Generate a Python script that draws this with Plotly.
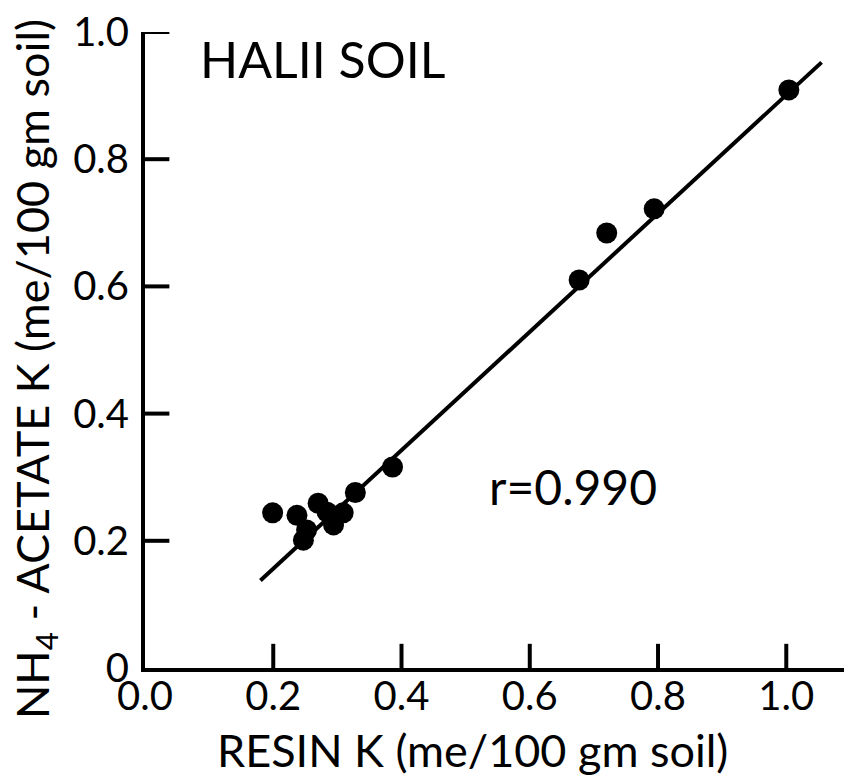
import plotly.graph_objects as go

# Resin-extractable K versus NH4-acetate extractable K, Halii soil
resin_k = [0.199, 0.237, 0.247, 0.252, 0.270, 0.284, 0.294, 0.309, 0.328, 0.386,
           0.677, 0.720, 0.794, 1.004]
acetate_k = [0.244, 0.240, 0.201, 0.217, 0.259, 0.245, 0.225, 0.244, 0.276, 0.316,
             0.610, 0.684, 0.722, 0.909]

# Fitted regression line
fit_slope = 0.931
fit_intercept = -0.030
fit_x = [0.18, 1.055]
fit_y = [fit_intercept + fit_slope * v for v in fit_x]

x_tickvals = [0.0, 0.2, 0.4, 0.6, 0.8, 1.0]
x_ticktext = ["0.0", "0.2", "0.4", "0.6", "0.8", "1.0"]
y_tickvals = [0.0, 0.2, 0.4, 0.6, 0.8, 1.0]
y_ticktext = ["0", "0.2", "0.4", "0.6", "0.8", "1.0"]

FONT = "Lato"
X_RANGE = [0, 1.09]
Y_RANGE = [0, 1.0]
TICK_LEN = 0.038  # inward tick length, in axis units

fig = go.Figure()

# Inward tick marks, one short segment per tick value
for v in x_tickvals[1:]:
    fig.add_trace(go.Scatter(x=[v, v], y=[0, TICK_LEN], mode="lines",
                             line=dict(color="black", width=4), hoverinfo="skip"))
for v in y_tickvals[1:]:
    fig.add_trace(go.Scatter(x=[0, TICK_LEN], y=[v, v], mode="lines",
                             line=dict(color="black", width=4), hoverinfo="skip"))

fig.add_trace(go.Scatter(x=fit_x, y=fit_y, mode="lines",
                         line=dict(color="black", width=4), hoverinfo="skip"))
fig.add_trace(go.Scatter(x=resin_k, y=acetate_k, mode="markers",
                         marker=dict(color="black", size=21, line=dict(width=0))))

axis_common = dict(showgrid=False, zeroline=False, showline=True, linecolor="black",
                   linewidth=4, ticks="", tickfont=dict(family=FONT, size=40, color="black"))

fig.update_xaxes(range=X_RANGE, tickmode="array", tickvals=x_tickvals,
                 ticktext=x_ticktext, ticklabelstandoff=-10, **axis_common)
fig.update_yaxes(range=Y_RANGE, tickmode="array", tickvals=y_tickvals,
                 ticktext=y_ticktext, ticklabelstandoff=4, **axis_common)

fig.add_annotation(x=0.083, y=0.958, xref="x", yref="y", xanchor="left", yanchor="middle",
                   text="HALII SOIL", showarrow=False,
                   font=dict(family=FONT, size=50, color="black"))
fig.add_annotation(x=0.534, y=0.285, xref="x", yref="y", xanchor="left", yanchor="middle",
                   text="r=0.990", showarrow=False,
                   font=dict(family=FONT, size=48, color="black"))
fig.add_annotation(x=0.51, y=0, xref="x", yref="paper", xanchor="center", yanchor="middle",
                   yshift=-82, text="RESIN K (me/100 gm soil)", showarrow=False,
                   font=dict(family=FONT, size=45, color="black"))
fig.add_annotation(x=0, y=0.5, xref="paper", yref="paper", xanchor="center", yanchor="middle",
                   xshift=-110, yshift=-19, textangle=-90,
                   text="NH<sub>4</sub> - ACETATE K (me/100 gm soil)", showarrow=False,
                   font=dict(family=FONT, size=45, color="black"))

fig.update_layout(width=844, height=779, margin=dict(l=145, r=0, t=32, b=111),
                  paper_bgcolor="white", plot_bgcolor="white", showlegend=False)

fig.write_html("out.html")
